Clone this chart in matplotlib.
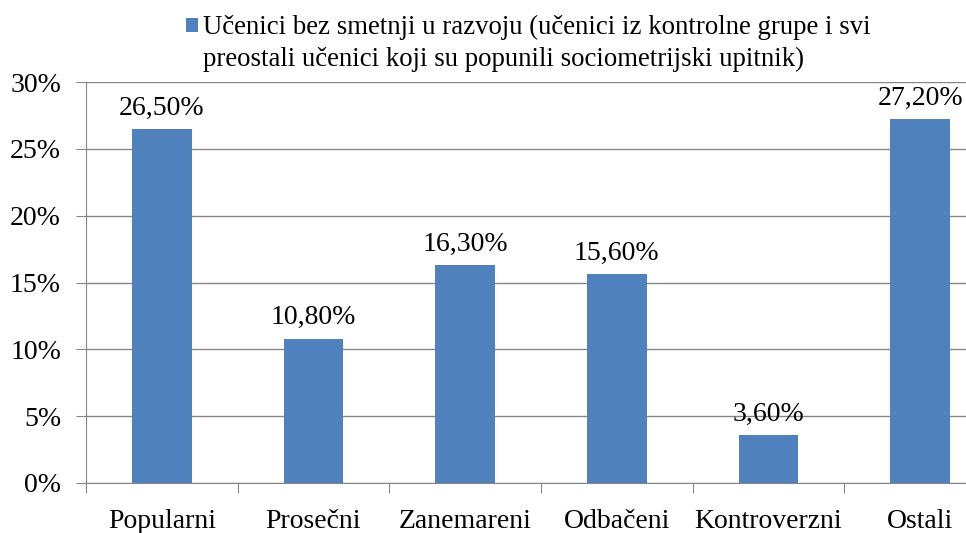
import numpy as np
import matplotlib
matplotlib.use("Agg")
import matplotlib.pyplot as plt
from matplotlib.ticker import FixedLocator, PercentFormatter

categories = ["Popularni", "Prosečni", "Zanemareni", "Odbačeni", "Kontroverzni", "Ostali"]
values = [26.5, 10.8, 16.3, 15.6, 3.6, 27.2]
value_labels = ["26,50%", "10,80%", "16,30%", "15,60%", "3,60%", "27,20%"]
y_ticks = [0, 5, 10, 15, 20, 25, 30]
series_label = ("Učenici bez smetnji u razvoju (učenici iz kontrolne grupe i svi\n"
                "preostali učenici koji su popunili sociometrijski upitnik)")

bar_color = "#4F81BD"
grey = "#868686"

plt.rcParams["font.family"] = ["Liberation Serif", "DejaVu Serif"]

fig = plt.figure(figsize=(9.66, 5.33), dpi=100)
ax = fig.add_axes([86 / 966, 50 / 533, 910 / 966, 401 / 533])

x = np.arange(len(categories))
ax.bar(x, values, width=0.395, color=bar_color, label=series_label, zorder=3)

for xi, v, lab in zip(x, values, value_labels):
    ax.annotate(lab, (xi, v), xytext=(0, 6), textcoords="offset points",
                ha="center", va="bottom", fontsize=20)

ax.set_xlim(-0.5, len(categories) - 0.5)
ax.set_ylim(0, 30)
ax.yaxis.set_major_locator(FixedLocator(y_ticks))
ax.yaxis.set_major_formatter(PercentFormatter(decimals=0))
ax.grid(axis="y", color=grey, linewidth=1, zorder=0)

ax.set_xticks(np.arange(len(categories) + 1) - 0.5)
ax.set_xticklabels([])
ax.set_xticks(x, minor=True)
ax.set_xticklabels(categories, minor=True)
ax.tick_params(axis="x", which="major", length=7, color=grey, direction="out")
ax.tick_params(axis="x", which="minor", length=0, pad=19, labelsize=20)
ax.tick_params(axis="y", length=7, color=grey, labelsize=20, pad=11)

for side in ["top", "right"]:
    ax.spines[side].set_visible(False)
for side in ["left", "bottom"]:
    ax.spines[side].set_color(grey)

leg = fig.legend(loc="upper left", bbox_to_anchor=(171 / 966, 1.0), frameon=False,
                 fontsize=19.3, handlelength=0.45, handleheight=0.45, handletextpad=0.2,
                 borderaxespad=0.15)
leg.get_texts()[0].set_linespacing(1.35)
# put the square beside the first line of the label
for h in leg.legend_handles:
    h.set_y(h.get_y() + 0.68 * 19.3)

fig.savefig("out.png", dpi=100)
